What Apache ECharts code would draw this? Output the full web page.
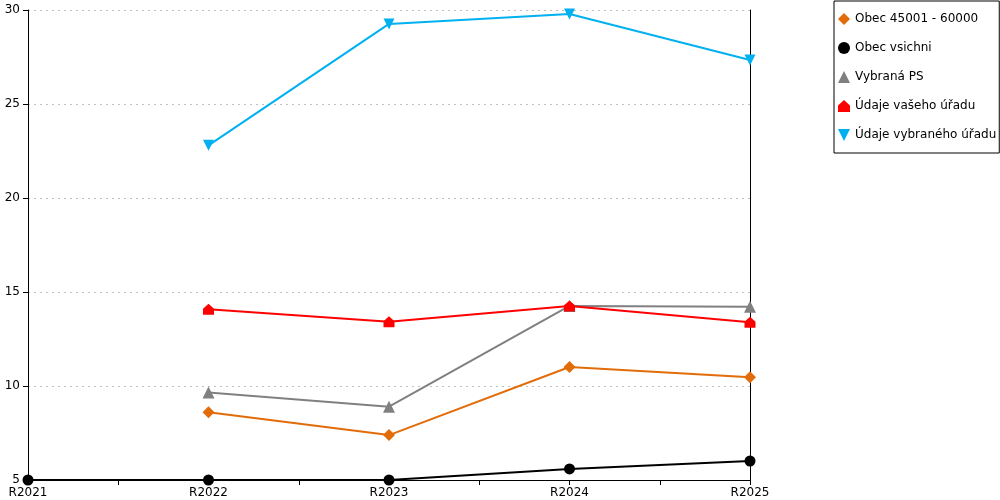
<!DOCTYPE html>
<html>
<head>
<meta charset="utf-8">
<script src="https://cdn.jsdelivr.net/npm/echarts@6/dist/echarts.min.js"></script>
<style>
  html, body { margin: 0; padding: 0; background: #fff; }
  #chart { width: 1000px; height: 500px; }
</style>
</head>
<body>
<div id="chart"></div>
<script>
var years = ['R2021', 'R2022', 'R2023', 'R2024', 'R2025'];

var obec45 = [null, 8.6, 7.39, 11.01, 10.47];
var obecVsichni = [5, 5, 5, 5.59, 6.01];
var vybranaPS = [null, 9.66, 8.9, 14.26, 14.22];
var vasUrad = [null, 14.08, 13.42, 14.26, 13.39];
var vybranyUrad = [null, 22.8, 29.26, 29.79, 27.34];

var yTicks = [5, 10, 15, 20, 25, 30];

var houseIcon = 'path://M5,0L10,4.5L10,10L0,10L0,4.5Z';
var downTriangle = 'path://M0,0L10,0L5,10Z';

function line(name, data, color, symbol, size) {
    return {
        name: name,
        type: 'line',
        data: data,
        color: color,
        symbol: symbol,
        symbolSize: size,
        showAllSymbol: true,
        connectNulls: false,
        lineStyle: { width: 2, color: color },
        itemStyle: { color: color }
    };
}

var myChart = echarts.init(document.getElementById('chart'));

var option = {
    animation: false,
    textStyle: { fontFamily: 'DejaVu Sans' },
    grid: { left: 28, right: 250, top: 10, bottom: 20 },
    legend: {
        orient: 'vertical',
        left: 834,
        top: 1,
        padding: [12, 3, 12, 4],
        itemGap: 17,
        itemWidth: 12,
        itemHeight: 12,
        borderColor: '#000',
        borderWidth: 1,
        textStyle: { fontSize: 12, color: '#000', fontFamily: 'DejaVu Sans' },
        data: [
            { name: 'Obec 45001 - 60000', icon: 'diamond' },
            { name: 'Obec vsichni', icon: 'circle' },
            { name: 'Vybraná PS', icon: 'triangle' },
            { name: 'Údaje vašeho úřadu', icon: houseIcon },
            { name: 'Údaje vybraného úřadu', icon: downTriangle }
        ]
    },
    xAxis: [{
        type: 'category',
        data: years,
        boundaryGap: false,
        axisLine: { lineStyle: { color: '#000', width: 1 } },
        axisTick: { show: true, length: 5, lineStyle: { color: '#000' } },
        axisLabel: { color: '#000', fontSize: 12, margin: 7 },
        splitLine: { show: false }
    }, {
        type: 'value',
        min: 0,
        max: 4,
        interval: 0.5,
        position: 'bottom',
        axisLine: { show: false },
        axisTick: { show: true, length: 5, lineStyle: { color: '#000' } },
        axisLabel: { show: false },
        splitLine: { show: false }
    }],
    yAxis: [{
        type: 'value',
        min: yTicks[0],
        max: yTicks[yTicks.length - 1],
        interval: 5,
        axisLine: { show: true, lineStyle: { color: '#000' } },
        axisTick: { show: true, length: 5, lineStyle: { color: '#000' } },
        axisLabel: { color: '#000', fontSize: 12, margin: 8 },
        splitLine: { show: true, lineStyle: { color: '#c0c0c0', type: [2, 4], width: 1 } }
    }, {
        type: 'value',
        position: 'right',
        min: yTicks[0],
        max: yTicks[yTicks.length - 1],
        interval: 5,
        axisLine: { show: true, lineStyle: { color: '#000' } },
        axisTick: { show: false },
        axisLabel: { show: false },
        splitLine: { show: false }
    }],
    series: [
        line('Obec 45001 - 60000', obec45, '#e36c0a', 'diamond', 12),
        line('Obec vsichni', obecVsichni, '#000000', 'circle', 11),
        line('Vybraná PS', vybranaPS, '#808080', 'triangle', 12),
        line('Údaje vašeho úřadu', vasUrad, '#ff0000', houseIcon, 11),
        line('Údaje vybraného úřadu', vybranyUrad, '#00b0f0', downTriangle, 11)
    ]
};

myChart.setOption(option);

window.onresize = function() {
    myChart.resize();
}
</script>
</body>
</html>
